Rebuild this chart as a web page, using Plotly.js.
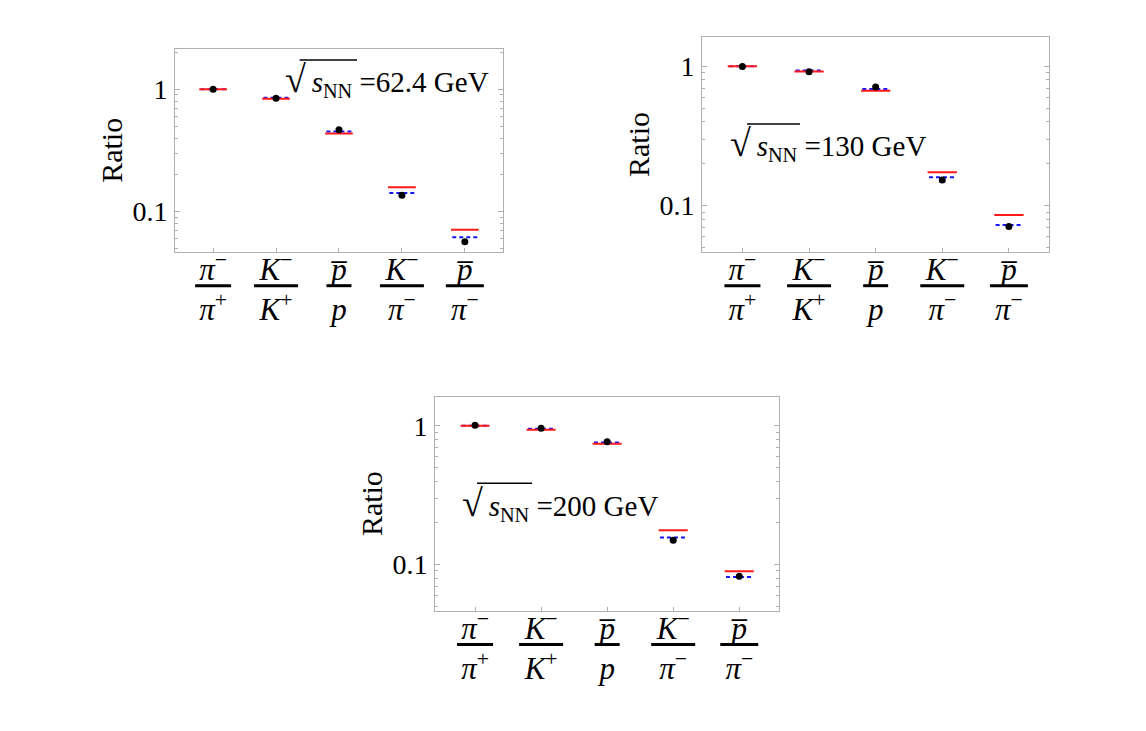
<!DOCTYPE html>
<html>
<head>
<meta charset="utf-8">
<script src="https://cdn.plot.ly/plotly-3.0.1.min.js"></script>
<style>html,body{margin:0;padding:0;background:#fff;}</style>
</head>
<body>
<div id="chart" style="width:1146px;height:731px;"></div>
<script>
// ---- data ----
const categories = [1, 2, 3, 4, 5];
const tickLabels = [
  '<i>π</i><sup>−</sup><br><i>π</i><sup>+</sup>',
  '<i>K</i><sup>−</sup><br><i>K</i><sup>+</sup>',
  '<i>p\u0305</i><br><i>p</i>',
  '<i>K</i><sup>−</sup><br><i>π</i><sup>−</sup>',
  '<i>p\u0305</i><br><i>π</i><sup>−</sup>'
];
const energyLabels = [
  '<span style="font-size:38px">√</span>\u2009<i>s</i><sub>NN</sub> =62.4 GeV',
  '<span style="font-size:38px">√</span>\u2009<i>s</i><sub>NN</sub> =130 GeV',
  '<span style="font-size:38px">√</span>\u2009<i>s</i><sub>NN</sub> =200 GeV'
];
const red62  = [1.0, 0.838, 0.436, 0.158, 0.0710];
const blue62 = [1.0, 0.855, 0.453, 0.142, 0.0616];
const data62 = [1.0, 0.844, 0.467, 0.136, 0.0567];

const red130  = [1.005, 0.921, 0.669, 0.174, 0.0857];
const blue130 = [1.005, 0.936, 0.689, 0.160, 0.0727];
const data130 = [1.0, 0.916, 0.711, 0.153, 0.0707];

const red200  = [1.0, 0.936, 0.742, 0.177, 0.0895];
const blue200 = [1.0, 0.951, 0.758, 0.157, 0.0815];
const data200 = [1.01, 0.962, 0.767, 0.150, 0.0824];

const yTickVals = [0.1, 1];
const yTickText = ['0.1', '1'];
const yMinorVals = [0.05, 0.06, 0.07, 0.08, 0.09, 0.2, 0.3, 0.4, 0.5, 0.6, 0.7, 0.8, 0.9, 2];
const yRange62 = [0.047, 2.14];
const yRangeHigh = [0.0467, 1.62];

// ---- styling ----
const FONT = 'Liberation Serif, Times New Roman, serif';
const RED_HALF = 0.22, BLUE_HALF = 0.20;
const FRAC_BAR_PX = [36, 44, 25, 44, 38];   // width of each label's fraction bar (px)
const FRAC_BAR_DROP = 34;                   // px below the frame
const frameColor = '#b0b0b0';

function segments(vals, half) {
  const x = [], y = [];
  vals.forEach((v, i) => { x.push(categories[i] - half, categories[i] + half, null); y.push(v, v, null); });
  return {x, y};
}

const panels = [
  {red: red62, blue: blue62, data: data62, xa: 'x', ya: 'y'},
  {red: red130, blue: blue130, data: data130, xa: 'x2', ya: 'y2'},
  {red: red200, blue: blue200, data: data200, xa: 'x3', ya: 'y3'}
];

const traces = [];
const shapes = [];
panels.forEach(p => {
  const b = segments(p.blue, BLUE_HALF);
  traces.push({x: b.x, y: b.y, xaxis: p.xa, yaxis: p.ya, mode: 'lines', type: 'scatter',
    line: {color: '#1515ff', width: 2, dash: '4px,3px'}, hoverinfo: 'skip', showlegend: false});
  const r = segments(p.red, RED_HALF);
  traces.push({x: r.x, y: r.y, xaxis: p.xa, yaxis: p.ya, mode: 'lines', type: 'scatter',
    line: {color: '#ff1a1a', width: 2}, hoverinfo: 'skip', showlegend: false});
  traces.push({x: categories, y: p.data, xaxis: p.xa, yaxis: p.ya, mode: 'markers', type: 'scatter',
    marker: {color: '#000', size: 7}, showlegend: false});
  // fraction bars of the tick labels
  categories.forEach((c, i) => {
    shapes.push({type: 'line', xref: p.xa, yref: p.ya + ' domain',
      xsizemode: 'pixel', xanchor: c, x0: -FRAC_BAR_PX[i] / 2, x1: FRAC_BAR_PX[i] / 2,
      ysizemode: 'pixel', yanchor: 0, y0: -FRAC_BAR_DROP, y1: -FRAC_BAR_DROP,
      line: {color: '#000', width: 3}});
  });
});

function xAxis(domain, anchor) {
  return {
    domain: domain, anchor: anchor, range: [0.394, 5.606],
    tickmode: 'array', tickvals: categories, ticktext: tickLabels,
    ticks: 'inside', ticklen: 4, tickcolor: frameColor, tickwidth: 1,
    showline: true, linecolor: frameColor, linewidth: 1, mirror: true,
    showgrid: false, zeroline: false,
    tickfont: {family: FONT, size: 31, color: '#000'}, ticklabelstandoff: -10
  };
}
function yAxis(domain, anchor, rng) {
  return {
    domain: domain, anchor: anchor, type: 'log',
    range: [Math.log10(rng[0]), Math.log10(rng[1])],
    tickmode: 'array', tickvals: yTickVals, ticktext: yTickText,
    ticks: 'inside', ticklen: 5, tickcolor: frameColor, tickwidth: 1,
    minor: {tickmode: 'array', tickvals: yMinorVals, ticks: 'inside', ticklen: 3, tickcolor: frameColor, showgrid: false},
    showline: true, linecolor: frameColor, linewidth: 1, mirror: 'ticks',
    showgrid: false, zeroline: false,
    tickfont: {family: FONT, size: 28, color: '#000'}, ticklabelstandoff: 1,
    title: {text: 'Ratio', font: {family: FONT, size: 30, color: '#000'}, standoff: 0}
  };
}

const annFont = {family: FONT, size: 29, color: '#000'};
shapes.push(
  {type: 'line', xref: 'x domain', yref: 'y domain', x0: 0.380, x1: 0.555, y0: 0.946, y1: 0.946,
   line: {color: '#000', width: 1.5}},
  {type: 'line', xref: 'x2 domain', yref: 'y2 domain', x0: 0.1296, x1: 0.282, y0: 0.5956, y1: 0.5956,
   line: {color: '#000', width: 1.5}},
  {type: 'line', xref: 'x3 domain', yref: 'y3 domain', x0: 0.122, x1: 0.2817, y0: 0.595, y1: 0.595,
   line: {color: '#000', width: 1.5}}
);

const layout = {
  width: 1146, height: 731,
  margin: {l: 0, r: 0, t: 0, b: 0},
  paper_bgcolor: '#fff', plot_bgcolor: '#fff',
  showlegend: false,
  xaxis: xAxis([0.1527, 0.4389], 'y'),
  yaxis: yAxis([0.6557, 0.9330], 'x', yRange62),
  xaxis2: xAxis([0.6126, 0.9156], 'y2'),
  yaxis2: yAxis([0.6557, 0.9490], 'x2', yRangeHigh),
  xaxis3: xAxis([0.3796, 0.6800], 'y3'),
  yaxis3: yAxis([0.1648, 0.4573], 'x3', yRangeHigh),
  annotations: [
    {text: energyLabels[0], xref: 'x domain', yref: 'y domain', x: 0.963, y: 0.845,
     xanchor: 'right', yanchor: 'middle', showarrow: false, font: annFont},
    {text: energyLabels[1], xref: 'x2 domain', yref: 'y2 domain', x: 0.0757, y: 0.502,
     xanchor: 'left', yanchor: 'middle', showarrow: false, font: annFont},
    {text: energyLabels[2], xref: 'x3 domain', yref: 'y3 domain', x: 0.0726, y: 0.4995,
     xanchor: 'left', yanchor: 'middle', showarrow: false, font: annFont}
  ],
  shapes: shapes
};

Plotly.newPlot('chart', traces, layout, {staticPlot: true, displayModeBar: false});
</script>
</body>
</html>
